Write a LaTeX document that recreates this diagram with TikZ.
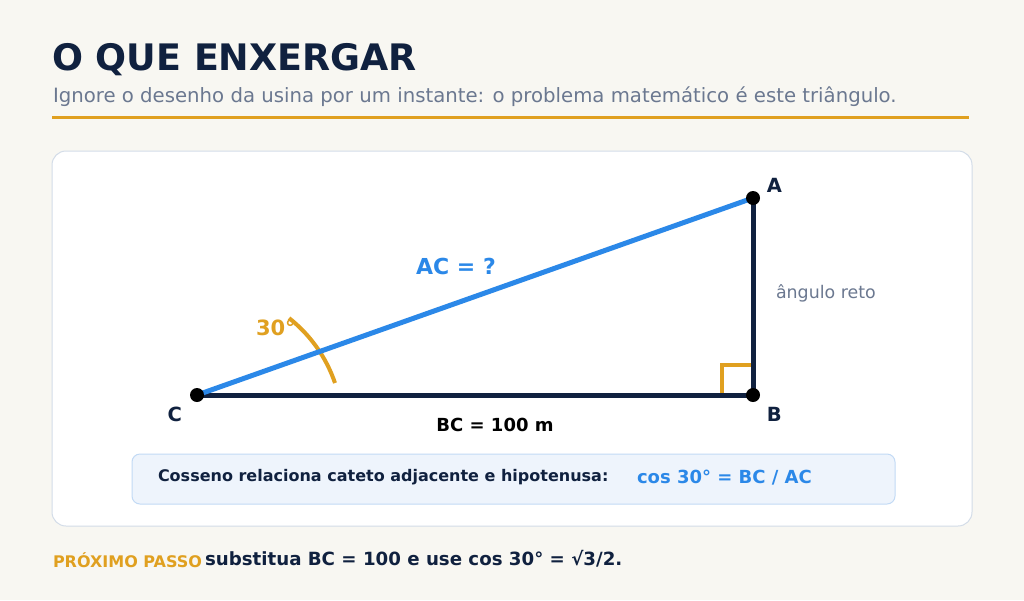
\documentclass[tikz,border=0pt]{standalone}
\usepackage{fontspec}
\setmainfont{DejaVu Sans}
\usepackage{tikz}
\usetikzlibrary{positioning}
\usetikzlibrary{calc}
\definecolor{navy}{HTML}{10213F}
\definecolor{slate}{HTML}{6B7890}
\definecolor{gold}{HTML}{E0A020}
\definecolor{sky}{HTML}{2B88E8}
\definecolor{paper}{HTML}{F8F7F2}
\definecolor{cardline}{HTML}{D3DCE8}
\definecolor{boxfill}{HTML}{EEF4FC}
\definecolor{boxline}{HTML}{C2DAF5}
\newcommand{\fs}[1]{\fontsize{#1}{#1}\selectfont}

\begin{document}
\begin{tikzpicture}[x=1pt,y=1pt,inner sep=0pt,outer sep=0pt]
\tikzstyle{vertex} = [circle, fill=black, minimum size=14pt]
\tikzstyle{vlabel} = [font=\fs{19.5}\bfseries, text=navy]
\tikzstyle{side} = [line width=5pt, navy]
\tikzstyle{hyp} = [line width=5pt, sky]
\tikzstyle{anglemark} = [line width=4pt, gold]

% background and frame
\fill[paper] (0,0) rectangle (1024,-600);
\useasboundingbox (0,0) rectangle (1024,-600);

\node[anchor=base west, font=\fs{36.5}\bfseries, text=navy] (title) at (52,-70) {O QUE ENXERGAR};
\node[anchor=base west, font=\fs{19.7}, text=slate] (subtitle) at (53,-102)
  {Ignore o desenho da usina por um instante: o problema matemático é este triângulo.};
\draw[gold, line width=3pt] (52,-117) -- (969,-117);

\node[draw=cardline, line width=1pt, fill=white, rounded corners=14pt,
  minimum width=920pt, minimum height=375pt, anchor=north west] (card) at (52,-151) {};

% triangle
\coordinate (C) at (197,-395);
\coordinate (B) at (753,-395);
\coordinate (A) at (753,-198);

\draw[anglemark] (722,-395) -- (722,-365) -- (753,-365);
\draw[anglemark] (335,-383) arc[start angle=18.8, end angle=51.8, radius=140];

\draw[side] (C) -- (B);
\draw[side] (B) -- (A);
\draw[hyp] (C) -- (A);

\node[vertex] (dotA) at (A) {};
\node[vertex] (dotB) at (B) {};
\node[vertex] (dotC) at (C) {};

\node[vlabel] (labA) [above right=1pt and 9pt of dotA] {A};
\node[vlabel] (labB) [below right=7pt and 9pt of dotB] {B};
\node[vlabel] (labC) [below left=7pt and 10pt of dotC] {C};

\node[anchor=base, font=\fs{22}\bfseries, text=sky] (hyplab) at (456,-274) {AC = ?};
\node[anchor=base west, font=\fs{21}\bfseries, text=gold] (anglab) at (256,-335) {30°};
\node[anchor=base west, font=\fs{17.4}, text=slate] (rightlab) at (776,-298) {ângulo reto};
\node[anchor=base, font=\fs{18}\bfseries, text=black] (baselab) at (495,-431) {BC = 100 m};

% formula
\node[draw=boxline, line width=1pt, fill=boxfill, rounded corners=8pt,
  minimum width=763pt, minimum height=50pt, anchor=north west] (formula) at (132,-454) {};
\node[anchor=base west, font=\fs{16}\bfseries, text=navy] (cosdef) at (158,-481.5)
  {Cosseno relaciona cateto adjacente e hipotenusa:};
\node[anchor=base west, font=\fs{18}\bfseries, text=sky] (coseq) at (637,-483)
  {cos 30° = BC / AC};

% next step
\node[anchor=base west, font=\fs{16}\bfseries, text=gold] (next) at (53,-567) {PRÓXIMO PASSO};
\node[anchor=base west, font=\fs{18.2}\bfseries, text=navy] (nexttxt) at (205,-565)
  {substitua BC = 100 e use cos 30° = √3/2.};
\end{tikzpicture}
\end{document}
